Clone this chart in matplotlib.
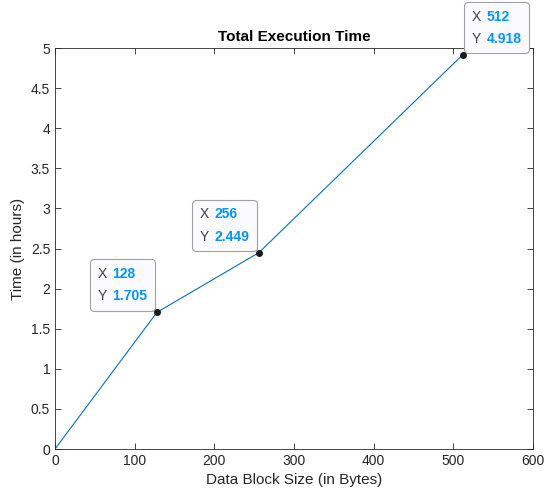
import matplotlib.pyplot as plt
from matplotlib.offsetbox import TextArea, HPacker, VPacker, AnnotationBbox

plt.rcParams['font.family'] = ['Liberation Sans', 'DejaVu Sans']

block_sizes = [0, 128, 256, 512]
exec_hours = [0, 1.705, 2.449, 4.918]
tip_x = [128, 256, 512]
tip_y = [1.705, 2.449, 4.918]

x_ticks = [0, 100, 200, 300, 400, 500, 600]
y_ticks = [0, 0.5, 1, 1.5, 2, 2.5, 3, 3.5, 4, 4.5, 5]

fig = plt.figure(figsize=(5.44, 4.93), dpi=100)
ax = fig.add_axes([0.1011, 0.0892, 0.8787, 0.8134])

ax.plot(block_sizes, exec_hours, color='#0072BD', linewidth=0.8)
ax.set_xlim(0, 600)
ax.set_ylim(0, 5)
ax.set_xticks(x_ticks)
ax.set_yticks(y_ticks)
ax.set_yticklabels([f'{v:g}' for v in y_ticks])
ax.tick_params(direction='in', length=4, width=0.6, colors='#262626', labelsize=10,
               top=True, right=True)
for s in ax.spines.values():
    s.set_color('#262626')
    s.set_linewidth(0.6)

ax.set_xlabel('Data Block Size (in Bytes)', fontsize=11, color='#262626')
ax.set_ylabel('Time (in hours)', fontsize=11, color='#262626')
ax.set_title('Total Execution Time', fontsize=11, fontweight='bold', color='black', pad=5)

ax.plot(tip_x, tip_y, 'o', color='#1a1a1a', markersize=4, zorder=8, clip_on=False)

# datatips: box corner sits on the point (right-aligned except the last one)
for i, (x, y) in enumerate(zip(tip_x, tip_y)):
    lab = dict(color='#404040', fontsize=10)
    val = dict(color='#0096FF', fontsize=10, fontweight='bold')
    row1 = HPacker(children=[TextArea('X', textprops=lab), TextArea(f'{x:g}', textprops=val)],
                   sep=4, pad=0)
    row2 = HPacker(children=[TextArea('Y', textprops=lab), TextArea(f'{y:.3f}', textprops=val)],
                   sep=4, pad=0)
    box = VPacker(children=[row1, row2], sep=6, pad=0, align='left')
    if i == len(tip_x) - 1:
        al, off = (0.0, 0.0), (6.3, 6.3)
    else:
        al, off = (1.0, 0.0), (-6.8, 6.5)
    ab = AnnotationBbox(box, (x, y), xybox=off, boxcoords='offset points',
                        box_alignment=al, frameon=True, annotation_clip=False, zorder=6,
                        bboxprops=dict(boxstyle='round,pad=0.55,rounding_size=0.3',
                                       facecolor='#fbfbff', edgecolor='#a0a0a0', linewidth=0.8))
    ax.add_artist(ab)

fig.savefig('out.png', dpi=100)
